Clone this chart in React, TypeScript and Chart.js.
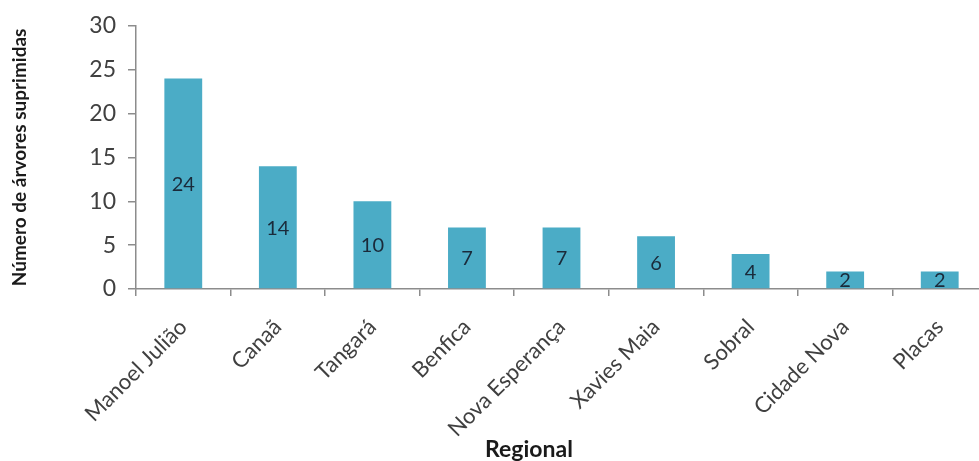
import React, { useEffect, useRef } from "react";
import { Chart, registerables } from "chart.js";

Chart.register(...registerables);

const categories: string[] = [
  "Manoel Julião",
  "Canaã",
  "Tangará",
  "Benfica",
  "Nova Esperança",
  "Xavies Maia",
  "Sobral",
  "Cidade Nova",
  "Placas",
];
const values: number[] = [24, 14, 10, 7, 7, 6, 4, 2, 2];
const yTitle = "Número de árvores suprimidas";
const xTitle = "Regional";

const FONT = "Lato, 'Open Sans', sans-serif";
const AXIS_COLOR = "#8c8c8c";

const dataLabelPlugin = {
  id: "centerLabels",
  afterDatasetsDraw(chart: any) {
    const ctx = chart.ctx;
    const meta = chart.getDatasetMeta(0);
    ctx.save();
    ctx.font = `20px ${FONT}`;
    ctx.fillStyle = "#1a2a3a";
    ctx.textAlign = "center";
    ctx.textBaseline = "middle";
    meta.data.forEach((bar: any, i: number) => {
      const v = chart.data.datasets[0].data[i];
      const y = (bar.y + bar.base) / 2;
      ctx.fillText(String(v), bar.x, y + 1);
    });
    ctx.restore();
  },
};

const xTitlePlugin = {
  id: "xTitleCustom",
  afterDraw(chart: any) {
    const ctx = chart.ctx;
    ctx.save();
    ctx.font = `bold 23px ${FONT}`;
    ctx.fillStyle = "#1a1a1a";
    ctx.textAlign = "center";
    ctx.textBaseline = "middle";
    ctx.fillText(xTitle, 529, 450);
    ctx.restore();
  },
};

export default function App() {
  const ref = useRef<HTMLCanvasElement | null>(null);
  useEffect(() => {
    document.body.style.margin = "0";
    const canvas = ref.current!;
    const chart = new Chart(canvas, {
      type: "bar",
      data: {
        labels: categories,
        datasets: [
          {
            data: values,
            backgroundColor: "#4BACC6",
            barPercentage: 0.4,
            categoryPercentage: 1.0,
          },
        ],
      },
      plugins: [dataLabelPlugin, xTitlePlugin],
      options: {
        animation: false,
        responsive: false,
        devicePixelRatio: 1,
        layout: { padding: { left: 0, top: 24, right: 8, bottom: 0 } },
        plugins: {
          legend: { display: false },
          tooltip: { enabled: false },
        },
        scales: {
          x: {
            offset: true,
            grid: {
              offset: true,
              drawOnChartArea: false,
              drawTicks: true,
              tickLength: 7,
              color: AXIS_COLOR,
              lineWidth: 1.5,
            },
            border: { color: AXIS_COLOR, width: 1.5 },
            ticks: {
              minRotation: 45,
              maxRotation: 45,
              autoSkip: false,
              padding: 18,
              color: "#404040",
              font: { family: FONT, size: 22 },
            },
            afterFit(scale: any) {
              scale.height = 172;
            },
          },
          y: {
            min: 0,
            max: 30,
            ticks: {
              stepSize: 5,
              padding: 12,
              color: "#404040",
              font: { family: FONT, size: 23 },
            },
            grid: {
              drawOnChartArea: false,
              drawTicks: true,
              tickLength: 8,
              color: AXIS_COLOR,
              lineWidth: 1.5,
            },
            border: { color: AXIS_COLOR, width: 1.5 },
            title: {
              display: true,
              text: yTitle,
              color: "#1a1a1a",
              font: { family: FONT, size: 19, weight: "bold" },
              padding: { top: 8, bottom: 0 },
            },
            afterFit(scale: any) {
              scale.width = 136;
            },
          },
        },
      },
    });
    return () => chart.destroy();
  }, []);
  return (
    <div style={{ width: 979, height: 461, overflow: "hidden", position: "relative", background: "#fff" }}>
      <canvas ref={ref} width={995} height={461} style={{ display: "block" }} />
    </div>
  );
}
